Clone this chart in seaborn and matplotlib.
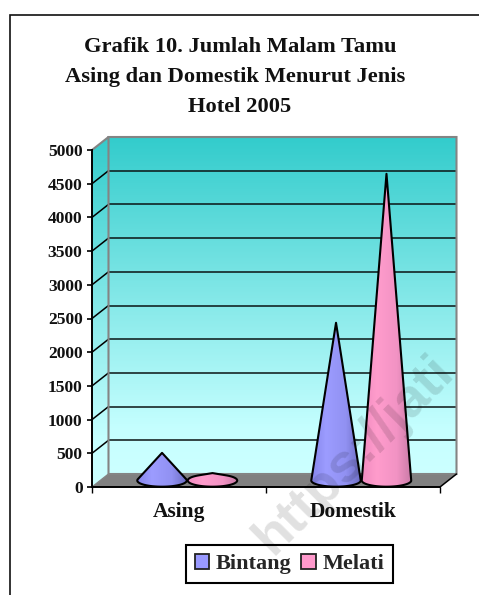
import numpy as np
import pandas as pd
import seaborn as sns
import matplotlib
matplotlib.use("Agg")
import matplotlib.pyplot as plt
from matplotlib.colors import LinearSegmentedColormap
from matplotlib.lines import Line2D
from matplotlib.patches import Patch, Polygon

categories = ["Asing", "Domestik"]
series_names = ["Bintang", "Melati"]
bintang = [410, 2340]
melati = [110, 4550]
y_ticks = list(range(0, 5001, 500))
title_lines = ["Grafik 10. Jumlah Malam Tamu",
               "Asing dan Domestik Menurut Jenis",
               "Hotel 2005"]
series_colors = {"Bintang": "#9999FF", "Melati": "#FF99CC"}
shades = {"Bintang": ["#8585EA", "#9C9CFF", "#9191F2", "#6C6CC0"],
          "Melati": ["#F08CC0", "#FF9CCC", "#F293C4", "#C87AA6"]}

W, H = 479, 595
sns.set_theme(style="white")
plt.rcParams["font.family"] = ["Liberation Serif", "DejaVu Serif"]
plt.rcParams["font.weight"] = "bold"

fig = plt.figure(figsize=(W / 100, H / 100), dpi=100, facecolor="white")
L, R, T, B = 92, 440, 150, 487
ax = fig.add_axes([L / W, 1 - B / H, (R - L) / W, (B - T) / H])
ax.patch.set_alpha(0)

df = pd.DataFrame({
    "Kategori": categories * 2,
    "Jenis": [series_names[0]] * 2 + [series_names[1]] * 2,
    "Malam": bintang + melati,
})
sns.barplot(data=df, x="Kategori", y="Malam", hue="Jenis", hue_order=series_names,
            palette=series_colors, width=0.58, legend=False, ax=ax)

x0, x1, y0, y1 = -0.5, 1.5, 0, 5000
px_x = (x1 - x0) / (R - L)
px_y = (y1 - y0) / (B - T)
dx, dy = 16.5 * px_x, 13 * px_y

wall_cmap = LinearSegmentedColormap.from_list(
    "wall", [(0, "#33CCCC"), (0.87, "#C6FFFF"), (1, "#CCFFFF")])
grad = np.linspace(0, 1, 256).reshape(-1, 1)

# back wall
ax.imshow(grad, cmap=wall_cmap, aspect="auto", zorder=0.5, clip_on=False,
          extent=(x0 + dx, x1 + dx, y0 + dy, y1 + dy))
# side wall
im = ax.imshow(grad, cmap=wall_cmap, aspect="auto", zorder=0.5,
               extent=(x0, x0 + dx, y0, y1 + dy))
side = Polygon([(x0, y0), (x0 + dx, y0 + dy), (x0 + dx, y1 + dy), (x0, y1)],
               closed=True, transform=ax.transData, fill=False, lw=0)
ax.add_patch(side)
side.set_clip_on(False)
im.set_clip_path(side)
im.set_clip_box(fig.bbox)

# floor
ax.add_patch(Polygon([(x0, y0), (x1, y0), (x1 + dx, dy), (x0 + dx, dy)], closed=True,
                     fc="#808080", ec="none", zorder=1, clip_on=False))

# grid lines on the back wall and the side wall
for v in y_ticks[1:-1]:
    ax.plot([x0 + dx, x1 + dx], [v + dy, v + dy], color="#0A1414", lw=1.1,
            zorder=1.2, clip_on=False, solid_capstyle="butt")
    ax.plot([x0, x0 + dx], [v, v + dy], color="black", lw=1.1, zorder=1.2, clip_on=False)

# wall edges
ax.plot([x0, x0 + dx, x1 + dx, x1 + dx, x0 + dx, x0 + dx],
        [y1, y1 + dy, y1 + dy, dy, dy, y1 + dy],
        color="#848484", lw=1.5, zorder=1.3, clip_on=False, solid_joinstyle="miter")
ax.plot([x0, x0 + dx], [0, dy], color="#848484", lw=1.0, zorder=1.3, clip_on=False)
ax.plot([x1, x1 + dx], [0, dy], color="black", lw=1.1, zorder=1.3, clip_on=False)


def cone_outline(cx, rx, cy, ry, h):
    """Silhouette of a cone with elliptical base, apex h above base centre."""
    a = h / ry
    th0 = np.arcsin(1 / a) if a > 1 else np.pi / 2
    th = np.linspace(th0, -np.pi - th0, 80)
    xs = cx + rx * np.cos(th)
    ys = cy + ry * np.sin(th)
    if a > 1:
        xs = np.r_[cx, xs]
        ys = np.r_[cy + h, ys]
    return np.column_stack([xs, ys])


ry = 6.2 * px_y
for name, cont in zip(series_names, ax.containers):
    cmap = LinearSegmentedColormap.from_list(
        name, list(zip([0, 0.3, 0.7, 1], shades[name])))
    for bar in cont:
        bar.set_visible(False)
        cx = bar.get_x() + bar.get_width() / 2 + dx / 2
        rx = bar.get_width() / 2 * 0.98
        h = bar.get_height()
        pts = cone_outline(cx, rx, dy / 2, ry, h)
        img = ax.imshow(np.linspace(0, 1, 128).reshape(1, -1), cmap=cmap, aspect="auto",
                        zorder=3, extent=(cx - rx, cx + rx, 0, max(h, ry) + dy))
        clip = Polygon(pts, closed=True, transform=ax.transData, fill=False, lw=0)
        ax.add_patch(clip)
        clip.set_clip_on(False)
        img.set_clip_path(clip)
        img.set_clip_box(fig.bbox)
        ax.add_patch(Polygon(pts, closed=True, fill=False, ec="black", lw=1.5, zorder=3.1,
                             joinstyle="round", clip_on=False))

ax.set_xlim(x0, x1)
ax.set_ylim(y0, y1)
ax.set_xlabel("")
ax.set_ylabel("")
sns.despine(ax=ax, top=True, right=True)
for s in ("left", "bottom"):
    ax.spines[s].set_color("black")
    ax.spines[s].set_linewidth(1.4)
    ax.spines[s].set_zorder(5)
ax.set_yticks(y_ticks)
ax.set_yticklabels([str(v) for v in y_ticks], fontsize=12.6, fontweight="bold", color="#111111")
ax.tick_params(axis="y", left=True, length=3.8, width=1.2, color="black", pad=3)
ax.set_xticks([0, 1])
ax.set_xticklabels(categories, fontsize=15.5, fontweight="bold", color="#111111")
ax.set_xticks([-0.5, 0.5, 1.5], minor=True)
ax.tick_params(axis="x", which="major", length=0, pad=10.5)
ax.tick_params(axis="x", which="minor", bottom=True, length=4.5, width=1.0, color="black")

# title
for line, cxp, cyp in zip(title_lines, [240, 235, 240], [47, 77, 107]):
    fig.text(cxp / W, 1 - cyp / H, line, ha="center", va="center",
             fontsize=16.2, fontweight="bold", color="#111111")

# legend
handles = [Patch(fc=series_colors[n], ec="#222222", lw=1.3, label=n) for n in series_names]
leg = fig.legend(handles=handles, loc="center", ncol=2,
                 bbox_to_anchor=(289.5 / W, 1 - 564 / H),
                 frameon=True, fancybox=False, edgecolor="black", framealpha=1,
                 prop={"family": "Liberation Serif", "weight": "bold", "size": 16},
                 handlelength=0.66, handleheight=0.66, handletextpad=0.28,
                 columnspacing=0.45, borderpad=0.38, borderaxespad=0)
leg.get_frame().set_linewidth(1.5)

# chart frame
fig.add_artist(Line2D([9.5 / W, 9.5 / W, 1], [0, 1 - 14.5 / H, 1 - 14.5 / H],
                      color="#111111", lw=1.2, solid_joinstyle="miter"))

# watermark
fig.text(272 / W, 1 - 556 / H, "https://jati", rotation=45, rotation_mode="anchor",
         ha="left", va="baseline", fontsize=39, fontweight="bold",
         family="Liberation Sans", color=(0, 0, 0, 0.12), zorder=10)

fig.savefig("out.png", dpi=100)
